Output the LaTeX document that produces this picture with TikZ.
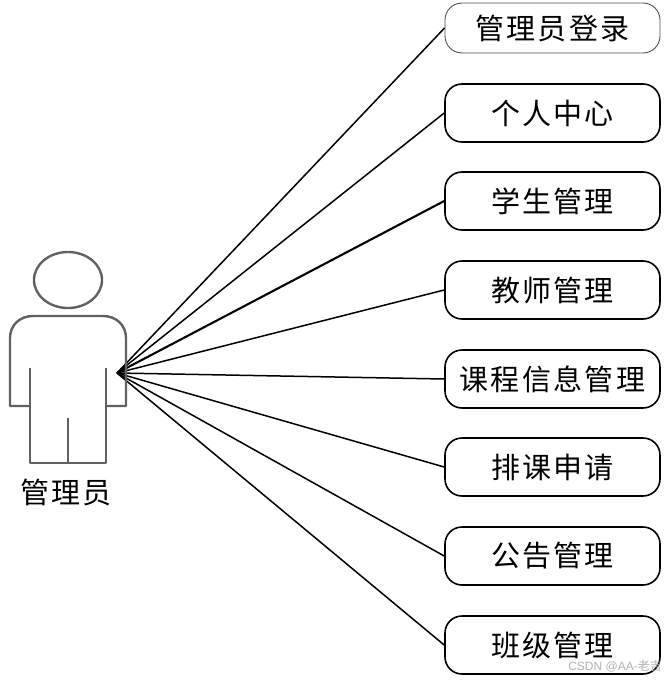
\documentclass[tikz,border=0pt]{standalone}
\usepackage{fontspec}
\usetikzlibrary{shapes.geometric}
\newfontfamily\cjk[LetterSpace=8]{Noto Sans CJK SC}
\newfontfamily\cjkplain{Noto Sans CJK SC}
\setsansfont{Liberation Sans}
\definecolor{actorgrey}{gray}{0.38}
\tikzset{
  usecase/.style={draw=black,line width=1.6pt,rounded corners=17pt,minimum width=215pt,minimum height=58pt,inner sep=0pt,font=\cjk\fontsize{29}{32}\selectfont,text=black,fill=white},
  link/.style={draw=black,line width=1.5pt},
  actorline/.style={draw=actorgrey,line width=2.4pt,line join=round},
  caption/.style={font=\cjk\fontsize{29}{32}\selectfont,inner sep=0pt},
  mark text/.style={font=\sffamily\fontsize{12}{13}\selectfont,text=black!30,inner sep=0pt}
}
\begin{document}
\begin{tikzpicture}[x=1pt,y=-1pt]
\useasboundingbox (0,0) rectangle (664,680);
\coordinate (hub) at (117,373);
\node[usecase,minimum height=50pt,line width=0.9pt,draw=black!70] (u1) at (552.5,28) {管理员登录};
\node[usecase] (u2) at (552.5,113) {个人中心};
\node[usecase] (u3) at (552.5,201) {学生管理};
\node[usecase] (u4) at (552.5,290) {教师管理};
\node[usecase] (u5) at (552.5,379) {课程信息管理};
\node[usecase] (u6) at (552.5,467) {排课申请};
\node[usecase] (u7) at (552.5,556) {公告管理};
\node[usecase] (u8) at (552.5,645) {班级管理};
\foreach \n in {u1,u2,u4,u5,u6,u7,u8}{\draw[link] (hub) -- (\n.west);}
\draw[link,line width=2.1pt] (hub) -- (u3.west);
\node[draw=actorgrey,line width=2.4pt,ellipse,minimum width=68pt,minimum height=56pt,inner sep=0pt] (head) at (68,280) {};
\draw[actorline] (30,406) -- (10,406) -- (10,338) .. controls (10,325) and (20,316) .. (33,316) -- (103,316) .. controls (116,316) and (126,325) .. (126,338) -- (126,406) -- (106,406);
\draw[actorline] (30,368) -- (30,463) -- (106,463) -- (106,368);
\draw[actorline] (68,418) -- (68,463);
\node[caption] (cap) at (66,492) {管理员};
\node[mark text,anchor=east] (wm) at (662,666) {CSDN @AA-{\cjkplain\fontsize{12}{13}\selectfont 老吉}};
\end{tikzpicture}
\end{document}
